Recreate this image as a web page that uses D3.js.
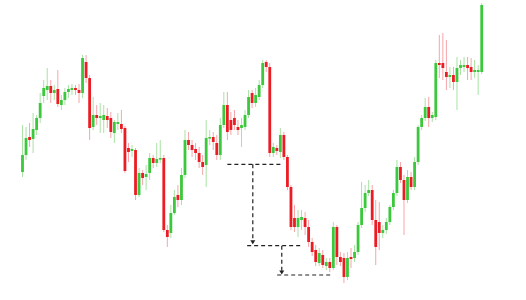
<!DOCTYPE html>
<html><head><meta charset="utf-8">
<script src="https://cdn.jsdelivr.net/npm/d3@7"></script>
<style>html,body{margin:0;padding:0;background:#fff;}svg{display:block;}</style>
</head><body><svg id="chart" width="526" height="300"></svg>
<script>
// candle values (price units), one entry per session
const opens  = [128,145,163,161,170,182,204,210,214,207,211,195,200,208,210,212,210,207,238,222,
                173,185,182,180,184,182,167,176,176,172,152,149,150,105,127,123,127,142,137,141,
                142,70,67,87,105,100,125,160,155,151,147,138,135,162,163,157,145,175,195,180,
                182,173,172,173,185,207,197,203,215,238,233,147,152,148,165,143,113,82,73,80,
                82,73,58,50,37,45,34,38,32,73,43,42,23,43,42,48,75,92,107,110,
                80,78,67,70,78,93,107,133,120,100,123,113,138,173,182,193,182,183,237,237,
                228,223,225,218,232,233,235,233,228,228,228];
const closes = [145,162,160,171,182,197,212,214,207,210,196,200,208,211,212,210,207,242,222,172,
                185,182,184,185,180,168,178,178,171,129,148,151,105,127,122,126,142,137,141,142,
                70,63,87,103,100,125,160,155,150,147,138,133,162,163,158,145,175,195,168,170,
                175,170,175,185,203,197,205,215,237,233,147,153,149,165,143,113,73,73,82,83,
                73,58,48,38,47,35,38,32,73,43,38,23,42,41,48,75,92,107,110,80,
                53,67,70,78,93,107,133,120,100,123,113,138,173,182,193,182,185,237,235,232,
                223,225,218,232,235,235,232,228,230,230,295];
const highs  = [175,173,177,187,185,207,220,232,220,215,230,205,212,215,216,215,216,245,245,225,
                203,195,197,195,192,188,180,187,190,174,157,155,152,132,130,135,147,145,157,160,
                145,75,95,110,115,132,170,168,160,157,153,145,180,170,168,165,182,208,208,188,
                190,180,182,190,210,210,212,220,240,240,237,157,155,172,168,145,115,95,90,90,
                88,80,62,55,52,50,42,42,78,75,48,47,48,52,55,78,118,115,120,115,
                100,98,75,82,95,110,140,138,125,130,128,143,175,185,202,203,188,240,265,267,
                260,233,233,243,240,243,243,242,240,235,297];
const lows   = [123,140,153,147,165,177,197,200,197,200,193,190,195,202,205,205,197,202,217,160,
                170,175,167,167,172,162,157,170,167,127,138,143,100,103,115,110,120,132,133,137,
                68,53,62,85,93,95,122,150,143,140,132,125,113,155,150,140,140,172,160,165,
                170,165,153,170,182,192,193,200,212,228,143,143,145,142,140,110,70,68,63,70,
                65,53,44,34,34,32,30,28,30,35,34,17,20,32,38,45,72,88,104,75,
                35,50,62,66,75,90,104,117,65,97,110,110,135,170,179,173,178,180,222,220,
                210,212,210,190,225,228,220,220,222,205,226];

// annotation levels: [start index, end index, price]
const levels  = [[58, 73.3, 135.7], [63.6, 79.1, 54.3], [72.1, 87.3, 25]];
// arrows: [index, from price, to price]
const arrows  = [[65.2, 135.7, 56.7], [73.4, 54.3, 26.5]];

const candles = opens.map((o, i) => ({i, o, c: closes[i], h: highs[i], l: lows[i]}));

const svg = d3.select("#chart");
const x = d3.scaleLinear().domain([0, candles.length - 1]).range([22.5, 481.7]);
const y = d3.scaleLinear().domain([0, 300]).range([300, 0]);

const UP = "#3cc83c", DOWN = "#ec1c24", UPW = "#a9e2a4", DOWNW = "#f5a6a9";
const bw = 2.8;

const g = svg.append("g");
g.selectAll("line.wick").data(candles).join("line")
  .attr("class", "wick")
  .attr("x1", d => x(d.i)).attr("x2", d => x(d.i))
  .attr("y1", d => y(d.h)).attr("y2", d => y(d.l))
  .attr("stroke", d => d.c >= d.o ? UPW : DOWNW).attr("stroke-width", 1);

g.selectAll("rect.body").data(candles).join("rect")
  .attr("class", "body")
  .attr("x", d => x(d.i) - bw / 2).attr("width", bw)
  .attr("y", d => y(Math.max(d.o, d.c)))
  .attr("height", d => Math.max(1.6, Math.abs(y(d.o) - y(d.c))))
  .attr("fill", d => d.c >= d.o ? UP : DOWN);

const defs = svg.append("defs");
defs.append("marker").attr("id", "ah").attr("viewBox", "0 0 6 6")
  .attr("refX", 3).attr("refY", 5.5).attr("markerWidth", 6).attr("markerHeight", 6)
  .attr("orient", "auto-start-reverse")
  .append("path").attr("d", "M0,1 L6,1 L3,6 Z").attr("fill", "#222");

const a = svg.append("g").attr("stroke", "#222").attr("stroke-width", 1.2)
  .attr("stroke-dasharray", "4,3").attr("fill", "none");
a.selectAll("line.lvl").data(levels).join("line").attr("class", "lvl")
  .attr("x1", d => x(d[0])).attr("x2", d => x(d[1]))
  .attr("y1", d => y(d[2])).attr("y2", d => y(d[2]));
a.selectAll("line.arr").data(arrows).join("line").attr("class", "arr")
  .attr("x1", d => x(d[0])).attr("x2", d => x(d[0]))
  .attr("y1", d => y(d[1])).attr("y2", d => y(d[2]));
svg.selectAll("path.head").data(arrows).join("path").attr("class", "head")
  .attr("d", d => `M${x(d[0]) - 2.5},${y(d[2]) - 3} L${x(d[0]) + 2.5},${y(d[2]) - 3} L${x(d[0])},${y(d[2]) + 1} Z`)
  .attr("fill", "#222");
</script></body></html>
